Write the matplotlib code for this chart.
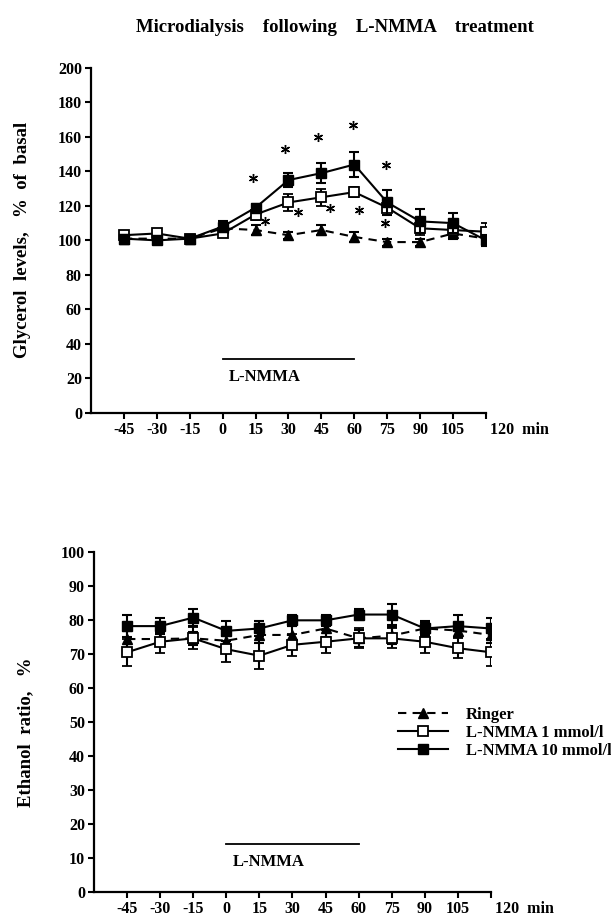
import matplotlib
matplotlib.use("Agg")
import matplotlib.pyplot as plt
from matplotlib.lines import Line2D

plt.rcParams['font.family'] = ['Liberation Serif', 'DejaVu Serif']
plt.rcParams['font.weight'] = 'bold'

times = [-45, -30, -15, 0, 15, 30, 45, 60, 75, 90, 105, 120]
tick_labels = ['-45', '-30', '-15', '0', '15', '30', '45', '60', '75', '90', '105', ' 120  min']

gly_ringer = [101, 101, 101, 107, 106, 103, 106, 102, 99, 99, 104, 101]
gly_ringer_err = [2, 2, 2, 2, 3, 2, 3, 3, 2, 2, 3, 2]
gly_1 = [103, 104, 101, 104, 115, 122, 125, 128, 119, 107, 106, 105]
gly_1_err = [2, 2, 2, 2, 3, 5, 5, 3, 4, 4, 4, 5]
gly_10 = [101, 100, 101, 108, 119, 135, 139, 144, 122, 111, 110, 100]
gly_10_err = [2, 2, 2, 3, 2, 4, 6, 7, 7, 7, 6, 3]

ast_upper_x = [14, 28.5, 43.5, 59.5, 74.5]
ast_upper_y = [136, 153, 160, 167, 144]
ast_lower_x = [19.5, 34.5, 49, 62, 74]
ast_lower_y = [111, 116.5, 119, 117.5, 110]

eth_ringer = [74.5, 74.5, 74.7, 74, 75.7, 75.7, 77.6, 74.7, 75.5, 77.6, 77, 75.7]
eth_ringer_err = [2.5, 2, 2, 2.5, 2.5, 2.5, 2.5, 2.5, 2.5, 2, 2, 2.5]
eth_1 = [70.6, 73.7, 74.7, 71.5, 69.6, 72.8, 73.7, 74.7, 74.7, 73.7, 71.8, 70.6]
eth_1_err = [4, 3.4, 3.2, 3.8, 3.8, 3.2, 3.4, 2.9, 2.9, 3.4, 2.9, 4]
eth_10 = [78.3, 78.3, 80.8, 76.9, 77.6, 80, 80, 81.7, 81.7, 77.6, 78.3, 77.6]
eth_10_err = [3.2, 2.4, 2.6, 2.9, 2.1, 1.6, 1.6, 1.6, 3.1, 2.2, 3.3, 3.2]

treat_start, treat_end = 0, 60
legend_labels = ['Ringer', 'L-NMMA 1 mmol/l', 'L-NMMA 10 mmol/l']

fig = plt.figure(figsize=(6.11, 9.19), dpi=100)
ax1 = fig.add_axes([0.1489, 0.5509, 0.6465, 0.3751])
ax2 = fig.add_axes([0.1538, 0.0290, 0.6498, 0.3700])

LW = 1.5
MS = 6.5
err_kw = dict(capsize=3.5, elinewidth=1.5, capthick=1.5)


def draw(ax, r, re, a, ae, b, be):
    ax.errorbar(times, r, yerr=re, color='black', lw=LW, ls=(0, (4, 3)),
                marker='^', ms=MS, mfc='black', mec='black', **err_kw)
    ax.errorbar(times, a, yerr=ae, color='black', lw=LW, ls='-',
                marker='s', ms=MS, mfc='white', mec='black', mew=1.3, **err_kw, zorder=3)
    ax.errorbar(times, b, yerr=be, color='black', lw=LW, ls='-',
                marker='s', ms=MS, mfc='black', mec='black', **err_kw, zorder=4)
    ax.set_xlim(-60, 120)
    ax.set_xticks(times)
    ax.set_xticklabels(tick_labels)
    lab = ax.get_xticklabels()[-1]
    lab.set_ha('left')
    for s in ['top', 'right']:
        ax.spines[s].set_visible(False)
    for s in ['left', 'bottom']:
        ax.spines[s].set_linewidth(1.6)
    ax.tick_params(direction='out', length=4, width=1.5, labelsize=11.5, pad=2.5)
    for t in ax.get_xticklabels() + ax.get_yticklabels():
        t.set_fontweight('bold')


draw(ax1, gly_ringer, gly_ringer_err, gly_1, gly_1_err, gly_10, gly_10_err)
ax1.set_ylim(0, 200)
ax1.set_yticks(range(0, 201, 20))
ax1.plot(ast_upper_x, ast_upper_y, ls='none', marker=(6, 2, 0), ms=6.5, mew=1.0, color='black')
ax1.plot(ast_lower_x, ast_lower_y, ls='none', marker=(6, 2, 0), ms=6.5, mew=1.0, color='black')
ax1.plot([treat_start, treat_end], [31, 31], color='black', lw=1.3)
ax1.text(3, 21, 'L-NMMA', fontsize=12, fontweight='bold', ha='left', va='center')
ax1.set_ylabel('Glycerol  levels,   %  of  basal', fontsize=13.5, fontweight='bold')
ax1.yaxis.set_label_coords(-0.152, 0.5)

draw(ax2, eth_ringer, eth_ringer_err, eth_1, eth_1_err, eth_10, eth_10_err)
ax2.set_ylim(0, 100)
ax2.set_yticks(range(0, 101, 10))
ax2.plot([treat_start, treat_end], [14.1, 14.1], color='black', lw=1.3)
ax2.text(3, 9, 'L-NMMA', fontsize=12, fontweight='bold', ha='left', va='center')
ax2.set_ylabel('Ethanol  ratio,   %', fontsize=13.5, fontweight='bold')
ax2.yaxis.set_label_coords(-0.150, 0.47)

handles = [
    Line2D([], [], color='black', lw=LW, ls=(0, (4, 3)), marker='^', ms=MS, mfc='black'),
    Line2D([], [], color='black', lw=LW, ls='-', marker='s', ms=MS, mfc='white', mew=1.3),
    Line2D([], [], color='black', lw=LW, ls='-', marker='s', ms=MS, mfc='black'),
]
fig.legend(handles, legend_labels, loc='upper left', bbox_to_anchor=(0.651, 0.231),
           frameon=False, handlelength=3.0, handletextpad=1.1,
           labelspacing=0.12, borderpad=0, borderaxespad=0,
           prop={'family': 'Liberation Serif', 'weight': 'bold', 'size': 12})

fig.text(0.548, 0.9706, 'Microdialysis    following    L-NMMA    treatment', ha='center', va='center',
         fontsize=13.5, fontweight='bold')

fig.savefig('out.png', dpi=100)
